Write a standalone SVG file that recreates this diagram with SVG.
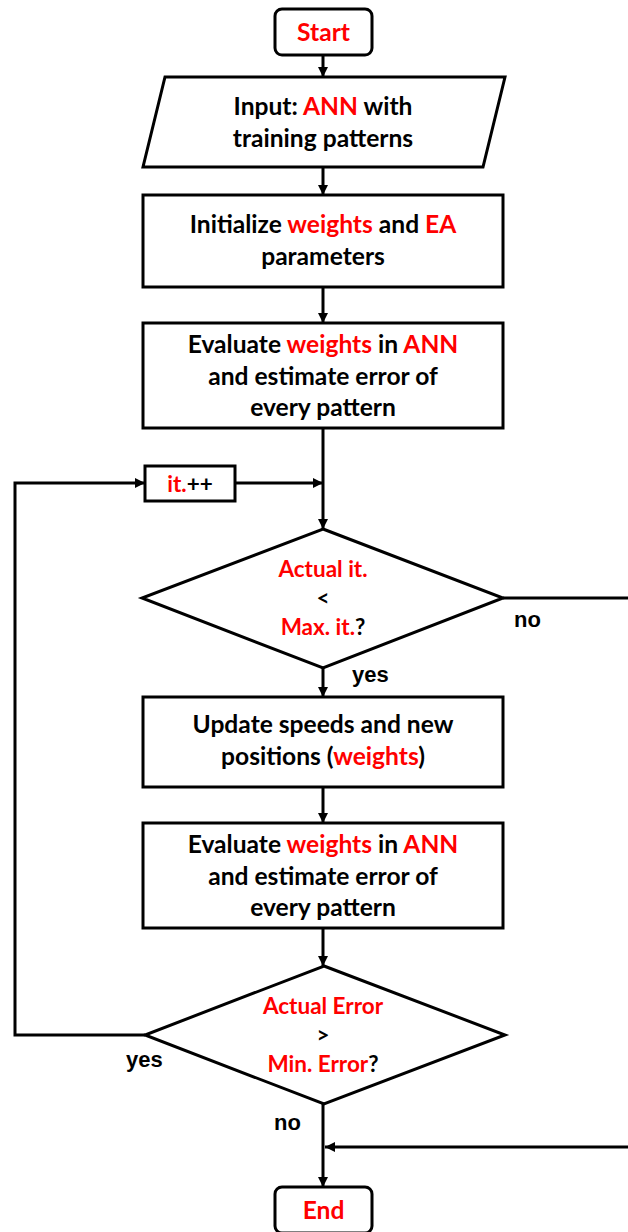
<svg xmlns="http://www.w3.org/2000/svg" width="628" height="1232" viewBox="0 0 628 1232">
<style>
.shape{fill:#fff;stroke:#000;stroke-width:3;stroke-linejoin:miter}
.t{font-family:Lato,"Open Sans",sans-serif;font-weight:700;font-size:24.6px;fill:#000;text-anchor:middle}
.d{font-size:22.5px}
.r{fill:#ff0000}
.lbl{font-family:"Liberation Sans",Arial,sans-serif;font-weight:700;font-size:22px;fill:#000}
.c{fill:none;stroke:#000;stroke-width:3}
</style>
<defs>
<marker id="ah" markerUnits="userSpaceOnUse" markerWidth="12" markerHeight="12" viewBox="0 0 12 12" refX="11" refY="6" orient="auto">
<path d="M1,1 L11,6 L1,11 Z" fill="#000"/>
</marker>
</defs>
<rect width="628" height="1232" fill="#fff"/>
<g id="connectors">
<line class="c" x1="323" y1="55" x2="323" y2="77" marker-end="url(#ah)"/>
<line class="c" x1="323" y1="167" x2="323" y2="195" marker-end="url(#ah)"/>
<line class="c" x1="323" y1="287" x2="323" y2="323" marker-end="url(#ah)"/>
<line class="c" x1="323" y1="428" x2="323" y2="529" marker-end="url(#ah)"/>
<line class="c" x1="235" y1="483" x2="323" y2="483" marker-end="url(#ah)"/>
<polyline class="c" points="145,1035 15,1035 15,483 145,483" marker-end="url(#ah)"/>
<line class="c" x1="323" y1="668" x2="323" y2="697" marker-end="url(#ah)"/>
<line class="c" x1="323" y1="787" x2="323" y2="823" marker-end="url(#ah)"/>
<line class="c" x1="323" y1="928" x2="323" y2="966" marker-end="url(#ah)"/>
<line class="c" x1="323" y1="1104" x2="323" y2="1187" marker-end="url(#ah)"/>
<polyline class="c" points="503,598 634,598 634,1147 325,1147" marker-end="url(#ah)"/>
<text class="lbl" x="514" y="627">no</text>
<text class="lbl" x="352" y="682">yes</text>
<text class="lbl" x="126" y="1067">yes</text>
<text class="lbl" x="274" y="1130">no</text>
</g>
<g id="start">
<rect class="shape" x="275" y="9" width="97" height="46" rx="7"/>
<text class="t r" x="323.5" y="41">Start</text>
</g>
<g id="input">
<polygon class="shape" points="165,77 505,77 483,167 143,167"/>
<text class="t" x="323" y="115">Input: <tspan class="r">ANN</tspan> with</text>
<text class="t" x="323" y="147">training patterns</text>
</g>
<g id="init">
<rect class="shape" x="143" y="195" width="360" height="92"/>
<text class="t" x="323" y="233">Initialize <tspan class="r">weights</tspan> and <tspan class="r">EA</tspan></text>
<text class="t" x="323" y="265">parameters</text>
</g>
<g id="eval1">
<rect class="shape" x="143" y="323" width="360" height="105"/>
<text class="t" x="323" y="353">Evaluate <tspan class="r">weights</tspan> in <tspan class="r">ANN</tspan></text>
<text class="t" x="323" y="385">and estimate error of</text>
<text class="t" x="323" y="416">every pattern</text>
</g>
<g id="itinc">
<rect class="shape" x="145" y="466" width="90" height="35"/>
<text class="t d" x="190" y="492"><tspan class="r">it.</tspan>++</text>
</g>
<g id="decision1">
<polygon class="shape" points="323,529 503,598 323,668 142,598"/>
<text class="t d r" x="323" y="577">Actual it.</text>
<text class="t d" x="323" y="606">&lt;</text>
<text class="t d" x="323" y="635"><tspan class="r">Max. it.</tspan>?</text>
</g>
<g id="update">
<rect class="shape" x="143" y="697" width="360" height="90"/>
<text class="t" x="323" y="733">Update speeds and new</text>
<text class="t" x="323" y="765">positions (<tspan class="r">weights</tspan>)</text>
</g>
<g id="eval2">
<rect class="shape" x="143" y="823" width="360" height="105"/>
<text class="t" x="323" y="853">Evaluate <tspan class="r">weights</tspan> in <tspan class="r">ANN</tspan></text>
<text class="t" x="323" y="885">and estimate error of</text>
<text class="t" x="323" y="916">every pattern</text>
</g>
<g id="decision2">
<polygon class="shape" points="324,966 505,1035 324,1104 145,1035"/>
<text class="t d r" x="323" y="1014">Actual Error</text>
<text class="t d" x="323" y="1043">&gt;</text>
<text class="t d" x="323" y="1072"><tspan class="r">Min. Error</tspan>?</text>
</g>
<g id="end">
<rect class="shape" x="275" y="1187" width="97" height="46" rx="7"/>
<text class="t r" x="323.5" y="1219">End</text>
</g>
</svg>
